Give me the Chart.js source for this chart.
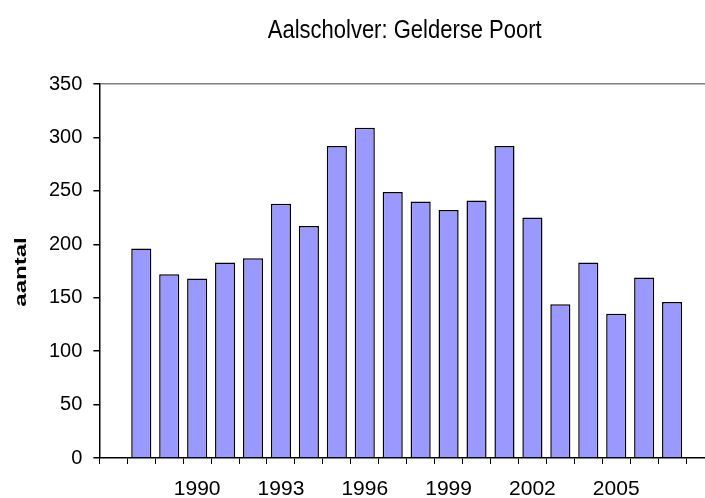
<!DOCTYPE html>
<html lang="en">
<head>
    <meta charset="UTF-8">
    <title>Aalscholver: Gelderse Poort</title>
    <script src="https://cdn.jsdelivr.net/npm/chart.js"></script>
    <style>
        html, body {
            margin: 0;
            padding: 0;
            background: #fff;
            overflow: hidden;
        }
        #wrap {
            width: 718px;
            height: 515px;
        }
    </style>
</head>
<body>
    <div id="wrap">
        <canvas id="myChart" width="718" height="515"></canvas>
    </div>

    <script>
        // years, with an empty slot on both ends like the original
        const years = [1987, 1988, 1989, 1990, 1991, 1992, 1993, 1994, 1995, 1996, 1997,
                       1998, 1999, 2000, 2001, 2002, 2003, 2004, 2005, 2006, 2007, 2008];
        const aantal = [null, 196, 172, 168, 183, 187, 238, 217, 292, 309, 249,
                        240, 232, 241, 292, 225, 144, 183, 135, 169, 146, null];
        const shownYears = [1990, 1993, 1996, 1999, 2002, 2005];
        const yTicks = [0, 50, 100, 150, 200, 250, 300, 350];

        const titleText = 'Aalscholver: Gelderse Poort';
        const yTitleText = 'aantal';
        const font = 'Liberation Sans, Arial, sans-serif';

        // the original has its title and axis title drawn a bit stretched,
        // so draw them by hand instead of with the title plugin
        const stretchedTexts = {
            id: 'stretchedTexts',
            afterDraw(chart) {
                const c = chart.ctx;
                const area = chart.chartArea;
                c.save();
                c.fillStyle = '#000';
                c.textAlign = 'center';
                c.textBaseline = 'alphabetic';

                // title, centred over the plot area
                c.save();
                c.translate((area.left + area.right) / 2 - 2, 37.5);
                c.scale(1, 1.2);
                c.font = '22px ' + font;
                c.fillText(titleText, 0, 0);
                c.restore();

                // y axis title, rotated
                c.save();
                c.translate(26, 272);
                c.rotate(-Math.PI / 2);
                c.scale(1.5, 1);
                c.font = 'bold 16px ' + font;
                c.fillText(yTitleText, 0, 0);
                c.restore();

                c.restore();
            }
        };

        const ctx = document.getElementById('myChart').getContext('2d');
        const myChart = new Chart(ctx, {
            type: 'bar',
            data: {
                labels: years,
                datasets: [{
                    label: 'aantal',
                    data: aantal,
                    backgroundColor: '#9999ff',
                    borderColor: '#000000',
                    borderWidth: 1.5,
                    borderSkipped: 'bottom',
                    categoryPercentage: 1,
                    barPercentage: 0.72,
                }],
            },
            options: {
                responsive: false,
                animation: false,
                layout: { padding: { top: 84, right: 4, bottom: 0, left: 38 } },
                plugins: {
                    legend: { display: false },
                    tooltip: { enabled: false },
                    title: { display: false },
                },
                scales: {
                    x: {
                        grid: {
                            offset: true,
                            drawOnChartArea: false,
                            tickLength: 6,
                            tickColor: '#000',
                        },
                        border: { color: '#000', width: 1.5 },
                        ticks: {
                            color: '#000',
                            font: { family: font, size: 21, lineHeight: 1 },
                            maxRotation: 0,
                            autoSkip: false,
                            padding: 15,
                            callback: function (value, index) {
                                const y = years[index];
                                return shownYears.includes(y) ? String(y) : '';
                            },
                        },
                    },
                    y: {
                        min: 0,
                        max: 350,
                        afterBuildTicks: function (axis) {
                            axis.ticks = yTicks.map(v => ({ value: v }));
                        },
                        grid: {
                            color: c => (c.tick && c.tick.value === 350) ? '#808080' : 'rgba(0,0,0,0)',
                            lineWidth: 1.5,
                            tickLength: 6,
                            tickColor: '#000',
                        },
                        border: { color: '#000', width: 1.5 },
                        ticks: {
                            color: '#000',
                            font: { family: font, size: 20, lineHeight: 1 },
                            padding: 11,
                        },
                    },
                },
            },
            plugins: [stretchedTexts],
        });
    </script>
</body>
</html>
